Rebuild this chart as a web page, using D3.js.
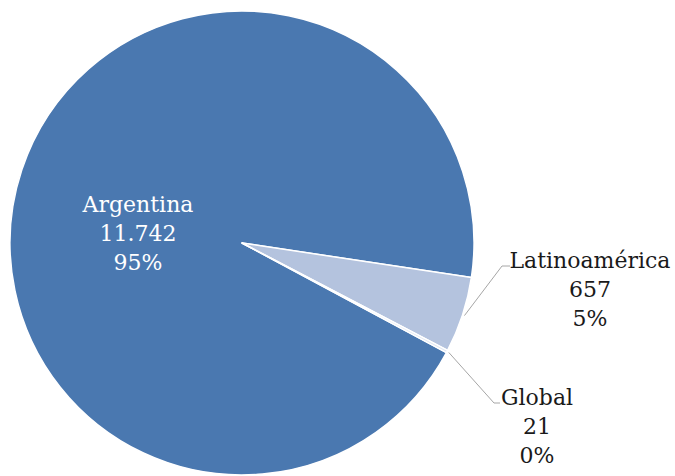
<!DOCTYPE html>
<html>
<head>
<meta charset="utf-8">
<script src="https://cdn.jsdelivr.net/npm/d3@7"></script>
<style>
  html, body { margin: 0; padding: 0; background: #ffffff; }
  svg { display: block; }
</style>
</head>
<body>
<svg id="chart" width="675" height="476"></svg>
<script>
const categories = ["Argentina", "Latinoamérica", "Global"];
const values = [11742, 657, 21];
const valueLabels = ["11.742", "657", "21"];
const percentLabels = ["95%", "5%", "0%"];
const colors = ["#4a78b0", "#b4c3de", "#dfe6f2"];

const svg = d3.select("#chart");
const cx = 242, cy = 243, R = 232;
const startDeg = 118.2;
const fontFam = "'DejaVu Serif', serif";
const fs = 22;
const lh = 29;

const data = categories.map((c, i) => ({ cat: c, value: values[i], vLab: valueLabels[i], pLab: percentLabels[i], color: colors[i] }));

const pie = d3.pie().sort(null).value(d => d.value)
  .startAngle(startDeg * Math.PI / 180)
  .endAngle(startDeg * Math.PI / 180 + 2 * Math.PI);
const arcs = pie(data);
const arc = d3.arc().innerRadius(0).outerRadius(R);

const g = svg.append("g").attr("transform", `translate(${cx},${cy})`);
g.selectAll("path").data(arcs).join("path")
  .attr("d", arc)
  .attr("fill", d => d.data.color)
  .attr("stroke", "#ffffff")
  .attr("stroke-width", 1.5)
  .attr("stroke-linejoin", "round");

// label layout (positions relative to svg)
const layout = {
  "Argentina": { x: 138, y: 212, color: "#ffffff" },
  "Latinoamérica": { x: 590, y: 268, color: "#1a1a1a", elbow: [502, 266], end: [510, 266] },
  "Global": { x: 537, y: 405, color: "#1a1a1a", elbow: [494, 403], end: [500, 403] }
};

arcs.forEach(a => {
  const L = layout[a.data.cat];
  if (L.elbow) {
    const mid = (a.startAngle + a.endAngle) / 2;
    const r0 = R + 2;
    const sx = cx + r0 * Math.sin(mid), sy = cy - r0 * Math.cos(mid);
    svg.append("polyline")
      .attr("points", [[sx, sy], L.elbow, L.end].map(p => p.join(",")).join(" "))
      .attr("fill", "none")
      .attr("stroke", "#a6a6a6")
      .attr("stroke-width", 1);
  }
  const t = svg.append("text")
    .attr("x", L.x).attr("y", L.y)
    .attr("text-anchor", "middle")
    .attr("font-family", fontFam)
    .attr("font-size", fs)
    .attr("fill", L.color);
  [a.data.cat, a.data.vLab, a.data.pLab].forEach((s, i) => {
    t.append("tspan").attr("x", L.x).attr("y", L.y + i * lh).text(s);
  });
});
</script>
</body>
</html>
